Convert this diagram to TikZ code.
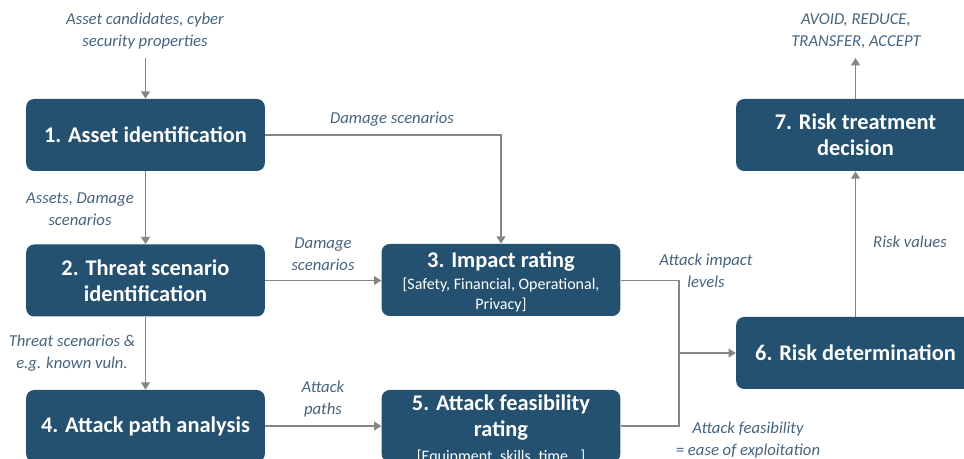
\documentclass[tikz,border=0pt]{standalone}
\usepackage{fontspec}
\setmainfont{Carlito}
\usepackage{xcolor}
\usetikzlibrary{arrows.meta,calc,positioning}

\definecolor{boxblue}{HTML}{24516F}
\definecolor{labelblue}{HTML}{46647E}
\definecolor{linegray}{HTML}{858585}

\newcommand{\subtxt}[1]{{\fontsize{12}{15}\selectfont\mdseries #1}}

\begin{document}
\begin{tikzpicture}[x=0.75pt, y=-0.75pt,
    box/.style={fill=boxblue, rounded corners=6pt, text=white,
        minimum width=179pt, minimum height=54pt, inner ysep=0pt, align=center,
        font=\fontsize{16.8}{19.5}\selectfont\bfseries},
    lbl/.style={text=labelblue, align=center, inner sep=0pt,
        font=\fontsize{12.5}{16.5}\selectfont\itshape},
    flow/.style={draw=linegray, line width=1.3pt, -{Triangle[width=6.5pt,length=5.5pt]}},
    wire/.style={draw=linegray, line width=1.3pt}]

    \clip (0,0) rectangle (964,459);

    % Boxes
    \node[box] (b1) at (145.5,135) {1. Asset identification};
    \node[box] (b2) at (145.5,280.5) {2. Threat scenario\\identification};
    \node[box, text height=49.5pt, text depth=4.5pt] (b3) at (501,280)
        {3. Impact rating\\[-3pt]
        \subtxt{[Safety, Financial, Operational,}\\[-4.5pt] \subtxt{Privacy]}};
    \node[box] (b4) at (145.5,426) {4. Attack path analysis};
    \node[box, text height=53.6pt, text depth=0.4pt] (b5) at (501,426)
        {5. Attack feasibility\\rating\\[-0.75pt]
        \subtxt{[Equipment, skills, time...]}};
    \node[box] (b6) at (855.5,353) {6. Risk determination};
    \node[box] (b7) at (855.5,135) {7. Risk treatment\\decision};

    % Ends and joints
    \coordinate (in1) at (145.5,58);
    \coordinate (out7) at (855.5,58);
    \coordinate (join) at (679,353);

    % Connectors
    \draw[flow] (in1) -- (b1);
    \draw[flow] (b1) -- (b2);
    \draw[flow] (b2) -- (b4);
    \draw[flow] (b1.east) -| (b3.north);
    \draw[flow] (b2) -- (b2 -| b3.west);
    \draw[flow] (b4) -- (b4 -| b5.west);
    \draw[wire] (b3.east |- b2) -| (join);
    \draw[wire] (b5.east |- b4) -| (join);
    \draw[flow] (join) -- (b6.west);
    \draw[flow] (b6) -- (b7);
    \draw[flow] (b7) -- (out7);

    % Labels
    \node[lbl] (l1) at (145,31) {Asset candidates, cyber\\security properties};
    \node[lbl] (l2) at (392,119) {Damage scenarios};
    \node[lbl] (l3) at (80,209) {Assets, Damage\\scenarios};
    \node[lbl] (l4) at (323,254) {Damage\\scenarios};
    \node[lbl] (l5) at (72,353) {Threat scenarios \&\\e.g. known vuln.};
    \node[lbl] (l6) at (323,399) {Attack\\paths};
    \node[lbl] (l7) at (706,271) {Attack impact\\levels};
    \node[lbl] (l8) at (748,440) {Attack feasibility\\= ease of exploitation};
    \node[lbl] (l9) at (910,242) {Risk values};
    \node[lbl] (l10) at (856,31) {AVOID, REDUCE,\\TRANSFER, ACCEPT};

\end{tikzpicture}
\end{document}
